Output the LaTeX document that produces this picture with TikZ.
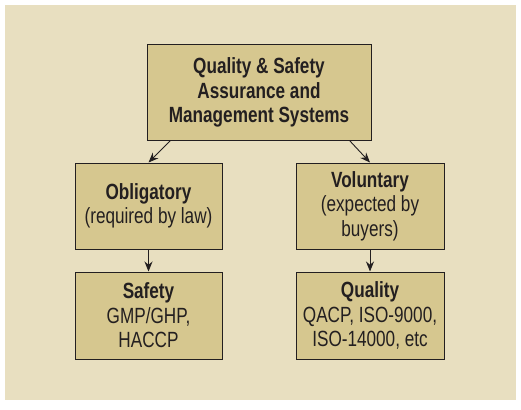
\documentclass[tikz,border=0pt]{standalone}
\usepackage{fontspec}
\setmainfont{Liberation Sans}[FakeStretch=0.78]
\usetikzlibrary{arrows.meta,calc}
\definecolor{bgc}{RGB}{232,223,192}
\definecolor{boxc}{RGB}{214,199,143}
\definecolor{inkc}{RGB}{35,31,32}
\begin{document}
\begin{tikzpicture}[x=1pt,y=-1pt,
  cbox/.style={draw=inkc,line width=1pt,fill=boxc,align=center,inner sep=0pt,
    font=\fontsize{22}{24.5}\selectfont,text=inkc},
  conn/.style={draw=inkc,line width=0.9pt,-{Stealth[length=10pt,width=8pt]}}]
\useasboundingbox (0,0) rectangle (521,409);
\fill[white] (0,0) rectangle (521,409);
\fill[bgc] (5,5) rectangle (516,400);
\node[cbox,minimum width=224pt,minimum height=95pt] (top) at (259,92.5)
  {\bfseries Quality \& Safety\\\bfseries Assurance and\\\bfseries Management Systems};
\node[cbox,minimum width=147pt,minimum height=86pt] (obl) at (148.5,206)
  {\bfseries Obligatory\\(required by law)};
\node[cbox,minimum width=148pt,minimum height=86pt] (vol) at (370,206)
  {\bfseries Voluntary\\(expected by\\buyers)};
\node[cbox,minimum width=147pt,minimum height=87pt] (saf) at (148.5,315.5)
  {\bfseries Safety\\GMP/GHP,\\HACCP};
\node[cbox,minimum width=148pt,minimum height=87pt] (qua) at (370,315.5)
  {\bfseries Quality\\QACP, ISO-9000,\\ISO-14000, etc};
\draw[conn] ([xshift=24pt]top.south west) -- (obl.north);
\draw[conn] ([xshift=-22pt]top.south east) -- (vol.north);
\draw[conn] (obl.south) -- (saf.north);
\draw[conn] (vol.south) -- (qua.north);
\end{tikzpicture}
\end{document}
